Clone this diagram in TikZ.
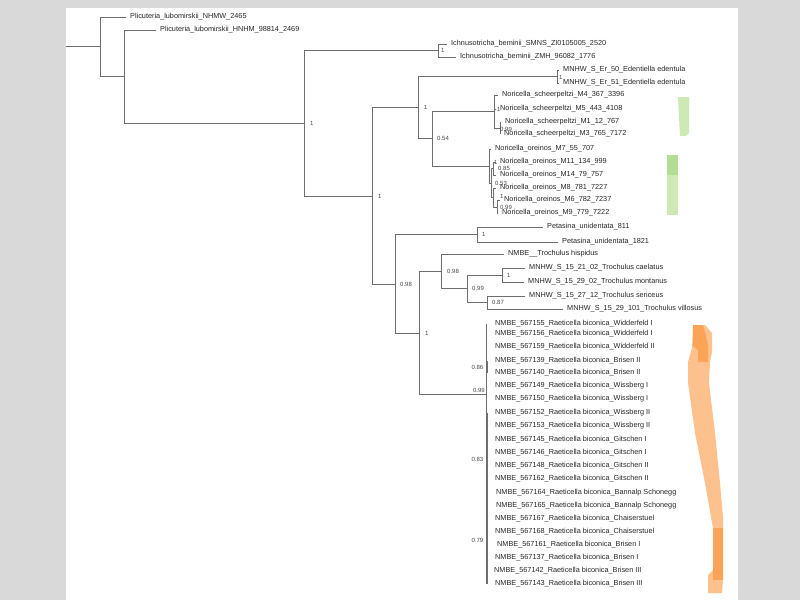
\documentclass[tikz,border=0pt]{standalone}
\usepackage{fontspec}
\setmainfont{Liberation Sans}
\usetikzlibrary{positioning}
\definecolor{branch}{HTML}{6E6E6E}
\definecolor{tiptext}{HTML}{262626}
\definecolor{panel}{HTML}{D9D9D9}
\definecolor{greenlight}{HTML}{CDEAB4}
\definecolor{greendark}{HTML}{B2DD92}
\definecolor{orangelight}{HTML}{FDC18E}
\definecolor{orangedark}{HTML}{FBA458}
\tikzset{
	tip/.style={anchor=west,inner xsep=4pt,inner ysep=0pt,text height=5.4pt,text depth=1.6pt,
		font=\fontsize{7.3}{8}\selectfont,text=tiptext},
	rtip/.style={tip,inner xsep=9pt},
	supp/.style={inner sep=0pt,font=\fontsize{6}{7}\selectfont,text=tiptext!85},
	branchline/.style={draw=branch,line width=0.8pt},
}

\begin{document}
\begin{tikzpicture}[x=1pt,y=-1pt]
	\useasboundingbox (0,0) rectangle (800,600);

	%panel......................
	\fill[panel] (0,0) rectangle (800,600);
	\fill[white] (66,8) rectangle (738,600);

	%colour bars.................
	\fill[greenlight] (678,97) -- (689,97) -- (689,133) -- (686,136) -- (680,136) -- cycle;
	\fill[greenlight] (667,155) rectangle (678,215);
	\fill[greendark] (667,155) rectangle (678,175);
	\fill[orangelight] (693,325) -- (705,325) -- (712,333) -- (712,352) -- (710,362) -- (709,383)
		-- (715,433) -- (720,483) -- (723,517) -- (723,580) -- (722,593) -- (708,593) -- (708,575)
		-- (713,570) -- (713,528) -- (711,517) -- (705,483) -- (695,433) -- (688,383) -- (688,362)
		-- (692,348) -- cycle;
	\fill[orangedark] (693,325) -- (703,325) -- (706,336) -- (708,345) -- (708,362) -- (698,362)
		-- (698,350) -- (693,346) -- cycle;
	\fill[orangedark] (713,528) rectangle (723,580);

	%inner nodes.................
	\coordinate (root) at (66,46);
	\coordinate (na) at (100,46);
	\coordinate (nb) at (124,76);
	\coordinate (nc) at (304,123);
	\coordinate (ni) at (438,50);
	\coordinate (nd) at (372,196);
	\coordinate (ne) at (418,107);
	\coordinate (ned) at (557,76);
	\coordinate (ng) at (432,138);
	\coordinate (nsc) at (494,111);
	\coordinate (nsc2) at (500,128);
	\coordinate (nor) at (489,166);
	\coordinate (nor2) at (491,183);
	\coordinate (nor3) at (493,168);
	\coordinate (nor4) at (493,197);
	\coordinate (nor5) at (497,207);
	\coordinate (nf) at (395,284);
	\coordinate (npe) at (477,234);
	\coordinate (nh) at (419,333);
	\coordinate (nt) at (441,271);
	\coordinate (nu) at (467,288);
	\coordinate (nv) at (502,275);
	\coordinate (nw) at (487,302);
	\coordinate (nr) at (486,394);
	\coordinate (n86) at (487.5,367);
	\coordinate (n83) at (487.5,459);
	\coordinate (n79) at (487.5,540);

	%tips........................
	\node (p1) [tip] at (126,17) {Plicuteria\_lubomirskii\_NHMW\_2465};
	\node (p2) [tip] at (156,30) {Plicuteria\_lubomirskii\_HNHM\_98814\_2469};
	\node (i1) [tip] at (447,44) {Ichnusotricha\_beminii\_SMNS\_ZI0105005\_2520};
	\node (i2) [tip] at (456,57) {Ichnusotricha\_beminii\_ZMH\_96082\_1776};
	\node (e1) [tip] at (559,70) {MNHW\_S\_Er\_50\_Edentiella edentula};
	\node (e2) [tip] at (559,83) {MNHW\_S\_Er\_51\_Edentiella edentula};
	\node (s1) [tip] at (498,95) {Noricella\_scheerpeltzi\_M4\_367\_3396};
	\node (s2) [tip] at (496,109) {Noricella\_scheerpeltzi\_M5\_443\_4108};
	\node (s3) [tip] at (501,122) {Noricella\_scheerpeltzi\_M1\_12\_767};
	\node (s4) [tip] at (500,134) {Noricella\_scheerpeltzi\_M3\_765\_7172};
	\node (o1) [tip] at (491,149) {Noricella\_oreinos\_M7\_55\_707};
	\node (o2) [tip] at (496,162) {Noricella\_oreinos\_M11\_134\_999};
	\node (o3) [tip] at (496,175) {Noricella\_oreinos\_M14\_79\_757};
	\node (o4) [tip] at (496,188) {Noricella\_oreinos\_M8\_781\_7227};
	\node (o5) [tip] at (500,200) {Noricella\_oreinos\_M6\_782\_7237};
	\node (o6) [tip] at (498,213) {Noricella\_oreinos\_M9\_779\_7222};
	\node (pe1) [tip] at (543,227) {Petasina\_unidentata\_811};
	\node (pe2) [tip] at (558,242) {Petasina\_unidentata\_1821};
	\node (t1) [tip] at (504,254) {NMBE\_\_Trochulus hispidus};
	\node (t2) [tip] at (525,268) {MNHW\_S\_15\_21\_02\_Trochulus caelatus};
	\node (t3) [tip] at (524,282) {MNHW\_S\_15\_29\_02\_Trochulus montanus};
	\node (t4) [tip] at (525,296) {MNHW\_S\_15\_27\_12\_Trochulus sericeus};
	\node (t5) [tip] at (563,309) {MNHW\_S\_15\_29\_101\_Trochulus villosus};
	\node (r1) [rtip] at (486,324) {NMBE\_567155\_Raeticella biconica\_Widderfeld I};
	\node (r2) [rtip] at (486,334) {NMBE\_567156\_Raeticella biconica\_Widderfeld I};
	\node (r3) [rtip] at (486,347) {NMBE\_567159\_Raeticella biconica\_Widderfeld II};
	\node (r4) [rtip] at (486,361) {NMBE\_567139\_Raeticella biconica\_Brisen II};
	\node (r5) [rtip] at (486,373) {NMBE\_567140\_Raeticella biconica\_Brisen II};
	\node (r6) [rtip] at (486,386) {NMBE\_567149\_Raeticella biconica\_Wissberg I};
	\node (r7) [rtip] at (486,399) {NMBE\_567150\_Raeticella biconica\_Wissberg I};
	\node (r8) [rtip] at (486,413) {NMBE\_567152\_Raeticella biconica\_Wissberg II};
	\node (r9) [rtip] at (486,426) {NMBE\_567153\_Raeticella biconica\_Wissberg II};
	\node (r10) [rtip] at (486,440) {NMBE\_567145\_Raeticella biconica\_Gitschen I};
	\node (r11) [rtip] at (486,453) {NMBE\_567146\_Raeticella biconica\_Gitschen I};
	\node (r12) [rtip] at (486,466) {NMBE\_567148\_Raeticella biconica\_Gitschen II};
	\node (r13) [rtip] at (486,479) {NMBE\_567162\_Raeticella biconica\_Gitschen II};
	\node (r14) [rtip] at (487,493) {NMBE\_567164\_Raeticella biconica\_Bannalp Schonegg};
	\node (r15) [rtip] at (487,506) {NMBE\_567165\_Raeticella biconica\_Bannalp Schonegg};
	\node (r16) [rtip] at (486,519) {NMBE\_567167\_Raeticella biconica\_Chaiserstuel};
	\node (r17) [rtip] at (486,532) {NMBE\_567168\_Raeticella biconica\_Chaiserstuel};
	\node (r18) [rtip] at (488,545) {NMBE\_567161\_Raeticella biconica\_Brisen I};
	\node (r19) [rtip] at (486,558) {NMBE\_567137\_Raeticella biconica\_Brisen I};
	\node (r20) [rtip] at (485,571) {NMBE\_567142\_Raeticella biconica\_Brisen III};
	\node (r21) [rtip] at (486,584) {NMBE\_567143\_Raeticella biconica\_Brisen III};

	%branches....................
	\draw [branchline] (root) -- (na);
	\draw [branchline] (na) |- (p1.west);
	\draw [branchline] (na) |- (nb);
	\draw [branchline] (nb) |- (p2.west);
	\draw [branchline] (nb) |- (nc);
	\draw [branchline] (nc) |- (ni);
	\draw [branchline] (nc) |- (nd);
	\draw [branchline] (ni) |- (i1.west);
	\draw [branchline] (ni) |- (i2.west);
	\draw [branchline] (nd) |- (ne);
	\draw [branchline] (nd) |- (nf);
	\draw [branchline] (ne) |- (ned);
	\draw [branchline] (ne) |- (ng);
	\draw [branchline] (ned) |- (e1.west);
	\draw [branchline] (ned) |- (e2.west);
	\draw [branchline] (ng) |- (nsc);
	\draw [branchline] (ng) |- (nor);
	\draw [branchline] (nsc) |- (s1.west);
	\draw [branchline] (nsc) |- (s2.west);
	\draw [branchline] (nsc) |- (nsc2);
	\draw [branchline] (nsc2) |- (s3.west);
	\draw [branchline] (nsc2) |- (s4.west);
	\draw [branchline] (nor) |- (o1.west);
	\draw [branchline] (nor) |- (nor2);
	\draw [branchline] (nor2) |- (nor3);
	\draw [branchline] (nor2) |- (nor4);
	\draw [branchline] (nor3) |- (o2.west);
	\draw [branchline] (nor3) |- (o3.west);
	\draw [branchline] (nor4) |- (o4.west);
	\draw [branchline] (nor4) |- (nor5);
	\draw [branchline] (nor5) |- (o5.west);
	\draw [branchline] (nor5) |- (o6.west);
	\draw [branchline] (nf) |- (npe);
	\draw [branchline] (nf) |- (nh);
	\draw [branchline] (npe) |- (pe1.west);
	\draw [branchline] (npe) |- (pe2.west);
	\draw [branchline] (nh) |- (nt);
	\draw [branchline] (nh) |- (nr);
	\draw [branchline] (nt) |- (t1.west);
	\draw [branchline] (nt) |- (nu);
	\draw [branchline] (nu) |- (nv);
	\draw [branchline] (nu) |- (nw);
	\draw [branchline] (nv) |- (t2.west);
	\draw [branchline] (nv) |- (t3.west);
	\draw [branchline] (nw) |- (t4.west);
	\draw [branchline] (nw) |- (t5.west);

	% Raeticella comb.............
	\draw [branchline] (nr) -- (nr |- r1.west);
	\draw [branchline] (nr) -- (nr |- r21.west);
	\draw [branchline,line width=1.1pt] (n86 |- r4.west) -- (n86 |- r5.west);
	\draw [branchline,line width=1.1pt] (n83 |- r8.west) -- (n83 |- r15.west);
	\draw [branchline,line width=1.1pt] (n79 |- r15.west) -- (n79 |- r21.west);

	%support values..............
	\node (lc) [supp, right=6pt of nc] {1};
	\node (li) [supp, right=3pt of ni] {1};
	\node (ld) [supp, right=6pt of nd] {1};
	\node (le) [supp, right=6pt of ne] {1};
	\node (led) [supp, right=2pt of ned, yshift=-1pt] {1};
	\node (lg) [supp, right=5pt of ng] {0.54};
	\node (lsc) [supp, right=3pt of nsc, yshift=2pt] {1};
	\node (lsc2) [supp, right=0pt of nsc2, yshift=-1pt] {0.99};
	\node (lor) [supp, right=5pt of nor, yshift=4pt] {1};
	\node (lor2) [supp, right=4pt of nor2] {0.53};
	\node (lor3) [supp, right=5pt of nor3] {0.85};
	\node (lor4) [supp, right=7pt of nor4, yshift=1pt] {1};
	\node (lor5) [supp, right=3pt of nor5] {0.99};
	\node (lf) [supp, right=5pt of nf] {0.98};
	\node (lpe) [supp, right=5pt of npe] {1};
	\node (lh) [supp, right=6pt of nh] {1};
	\node (lt) [supp, right=6pt of nt] {0.98};
	\node (lu) [supp, right=5pt of nu] {0.99};
	\node (lv) [supp, right=5pt of nv] {1};
	\node (lw) [supp, right=5pt of nw] {0.87};
	\node (lr) [supp, above left=1pt and 1pt of nr] {0.99};
	\node (l86) [supp, left=4pt of n86] {0.86};
	\node (l83) [supp, left=4pt of n83] {0.83};
	\node (l79) [supp, left=4pt of n79] {0.79};

\end{tikzpicture}
\end{document}
